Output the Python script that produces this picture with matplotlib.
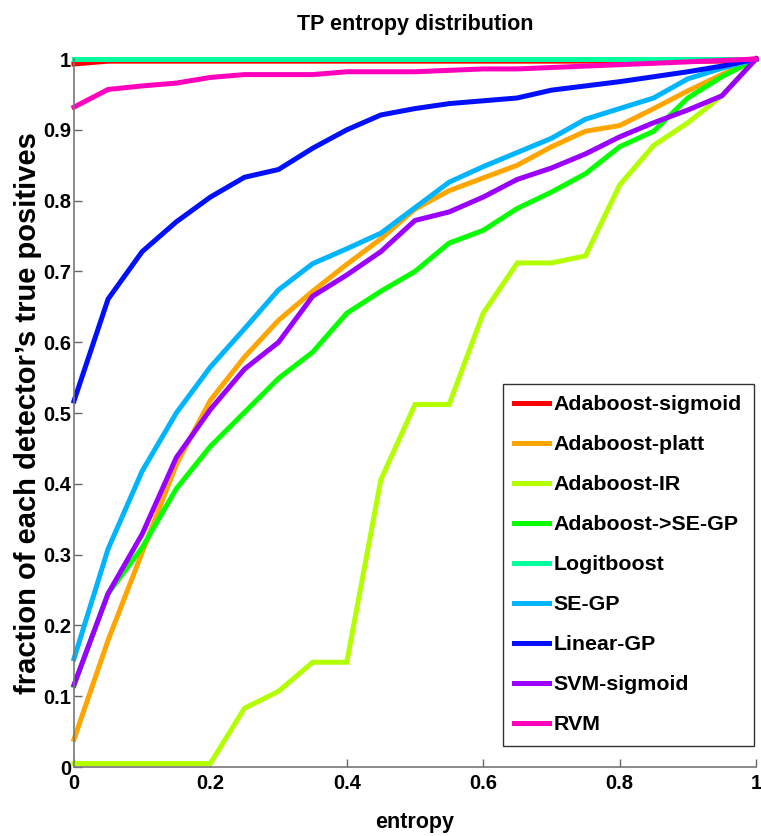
import numpy as np
import matplotlib
matplotlib.use('Agg')
import matplotlib.pyplot as plt

plt.rcParams['font.family'] = ['Liberation Sans', 'DejaVu Sans']
plt.rcParams['font.weight'] = 'bold'

entropy = [0.0, 0.05, 0.1, 0.15, 0.2, 0.25, 0.3, 0.35, 0.4, 0.45, 0.5,
           0.55, 0.6, 0.65, 0.7, 0.75, 0.8, 0.85, 0.9, 0.95, 1.0]

ada_sigmoid = [0.993] + [0.997] * 19 + [1.0]
ada_platt = [0.039, 0.179, 0.303, 0.427, 0.518, 0.579, 0.631, 0.672, 0.71, 0.746, 0.788,
             0.814, 0.832, 0.85, 0.876, 0.898, 0.906, 0.93, 0.955, 0.978, 1.0]
ada_ir = [0.005, 0.005, 0.005, 0.005, 0.005, 0.083, 0.107, 0.148, 0.148, 0.406, 0.512,
          0.512, 0.641, 0.712, 0.712, 0.722, 0.822, 0.878, 0.91, 0.948, 1.0]
ada_segp = [0.115, 0.245, 0.31, 0.393, 0.453, 0.501, 0.549, 0.586, 0.641, 0.672, 0.70,
            0.74, 0.758, 0.789, 0.812, 0.838, 0.876, 0.898, 0.945, 0.975, 1.0]
logitboost = [1.0] * 21
se_gp = [0.153, 0.308, 0.418, 0.5, 0.565, 0.619, 0.674, 0.711, 0.732, 0.754, 0.79,
         0.826, 0.848, 0.868, 0.888, 0.915, 0.93, 0.945, 0.972, 0.987, 1.0]
linear_gp = [0.517, 0.661, 0.728, 0.77, 0.805, 0.833, 0.844, 0.874, 0.9, 0.921, 0.93,
             0.937, 0.941, 0.945, 0.956, 0.962, 0.968, 0.975, 0.982, 0.99, 1.0]
svm_sigmoid = [0.116, 0.245, 0.329, 0.437, 0.505, 0.562, 0.6, 0.665, 0.695, 0.728, 0.772,
               0.784, 0.805, 0.83, 0.846, 0.866, 0.89, 0.91, 0.928, 0.948, 1.0]
rvm = [0.932, 0.957, 0.962, 0.966, 0.974, 0.978, 0.978, 0.978, 0.982, 0.982, 0.982,
       0.984, 0.986, 0.986, 0.988, 0.99, 0.992, 0.994, 0.996, 0.998, 1.0]

names = ['Adaboost-sigmoid', 'Adaboost-platt', 'Adaboost-IR', 'Adaboost->SE-GP',
         'Logitboost', 'SE-GP', 'Linear-GP', 'SVM-sigmoid', 'RVM']
series = [ada_sigmoid, ada_platt, ada_ir, ada_segp, logitboost, se_gp,
          linear_gp, svm_sigmoid, rvm]

# hsv(9) like matlab
colors = plt.cm.hsv(np.arange(9) / 9.0)

fig = plt.figure(figsize=(7.61, 8.36), dpi=100)
ax = fig.add_axes([0.0972, 0.0825, 0.8962, 0.8469])

for name, vals, c in zip(names, series, colors):
    ax.plot(entropy, vals, color=c, lw=3.6, label=name, clip_on=False,
            solid_joinstyle='miter')

ax.set_xlim(0, 1)
ax.set_ylim(0, 1)
ax.set_xticks([0, 0.2, 0.4, 0.6, 0.8, 1])
ax.set_xticklabels(['0', '0.2', '0.4', '0.6', '0.8', '1'])
ax.set_yticks(np.arange(0, 11) / 10)
ax.set_yticklabels(['0', '0.1', '0.2', '0.3', '0.4', '0.5', '0.6', '0.7', '0.8', '0.9', '1'])
ax.tick_params(direction='in', length=6, width=1, color='#666666', labelsize=14.5)
ax.tick_params(axis='y', pad=2)
ax.tick_params(axis='x', pad=5)
ax.spines['top'].set_visible(False)
ax.spines['right'].set_visible(False)
for s in ['left', 'bottom']:
    ax.spines[s].set_color('#777777')
    ax.spines[s].set_linewidth(1.2)

ax.set_title('TP entropy distribution', fontsize=15.5, fontweight='bold', pad=21)
ax.set_xlabel('entropy', fontsize=15.5, fontweight='bold', labelpad=14)
ax.set_ylabel("fraction of each detector\u2019s true positives", fontsize=21,
              fontweight='bold', labelpad=1)

leg = ax.legend(loc='lower right', bbox_to_anchor=(0.997, 0.03), borderaxespad=0,
                fontsize=15.4, frameon=True, fancybox=False, handlelength=1.6,
                labelspacing=0.98, borderpad=0.55, handletextpad=0.25)
leg.get_frame().set_edgecolor('black')
leg.get_frame().set_linewidth(1.0)

fig.savefig('out.png', dpi=100)
